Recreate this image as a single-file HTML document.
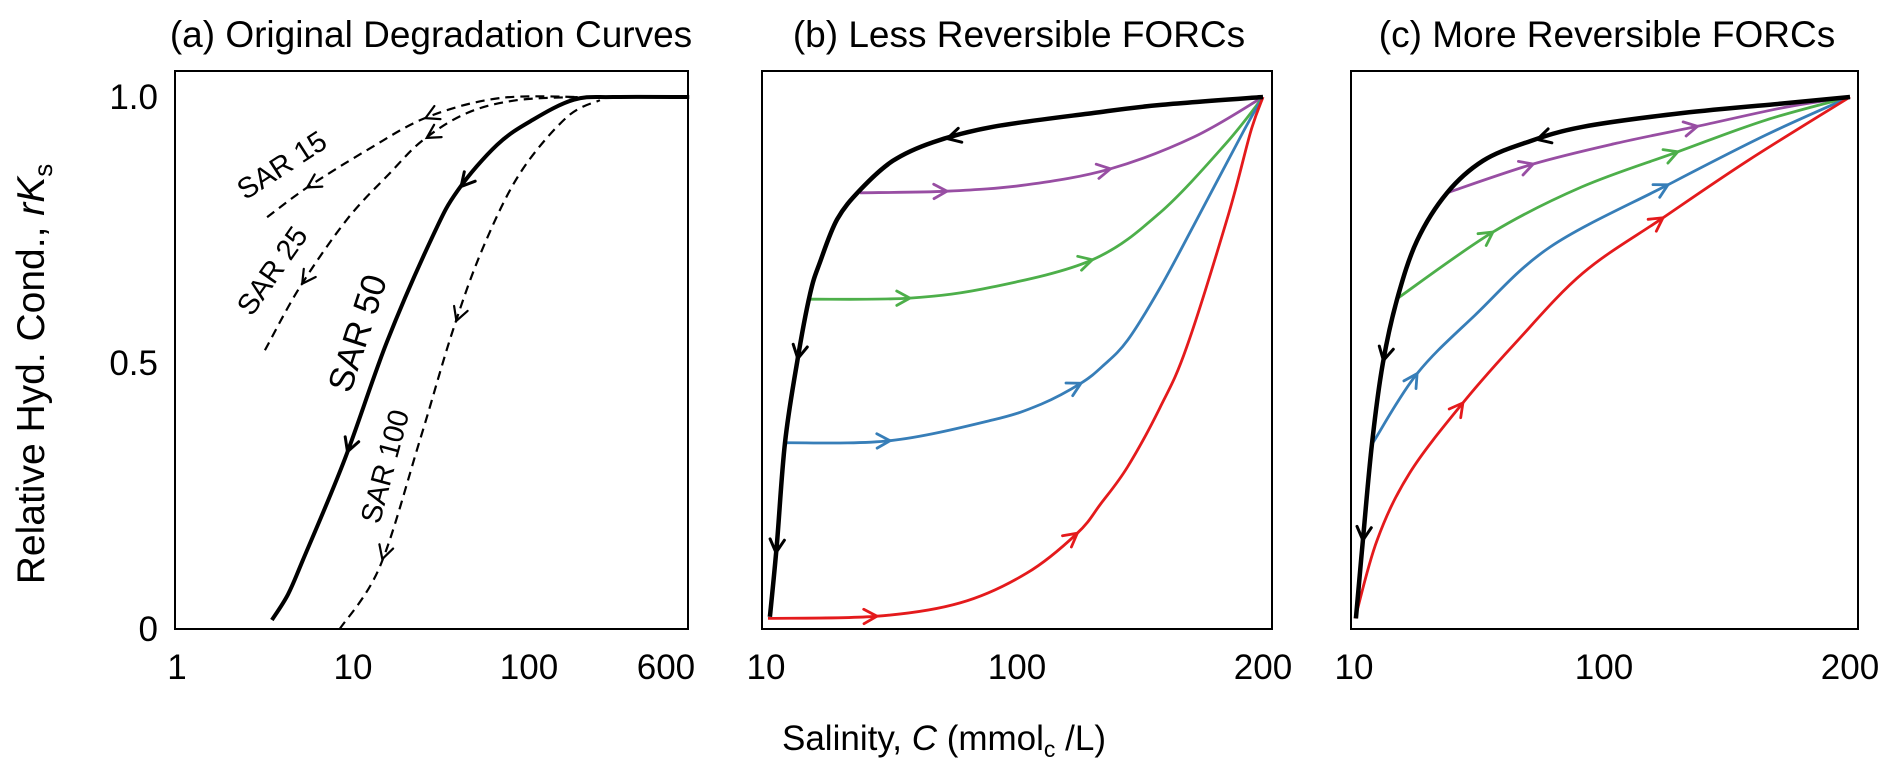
<!DOCTYPE html>
<html><head><meta charset="utf-8"><style>
html,body{margin:0;padding:0;background:#fff;}
svg text{font-family:"Liberation Sans",Arial,sans-serif;fill:#000;}
</style></head><body>
<svg id="chart" width="1893" height="776" viewBox="0 0 1893 776" xmlns="http://www.w3.org/2000/svg">
<g id="frames"></g>
<g id="marks"></g>
<g id="labels">
<text x="431" y="47" font-size="37" text-anchor="middle">(a) Original Degradation Curves</text>
<text x="1019" y="47" font-size="37" text-anchor="middle">(b) Less Reversible FORCs</text>
<text x="1607" y="47" font-size="37" text-anchor="middle">(c) More Reversible FORCs</text>
<text transform="translate(44,374) rotate(-90)" font-size="39" text-anchor="middle">Relative Hyd. Cond., <tspan font-style="italic">rK</tspan><tspan font-size="26" dy="8">s</tspan></text>
<text x="944" y="750" font-size="35" text-anchor="middle">Salinity, <tspan font-style="italic">C</tspan> (mmol<tspan font-size="23" dy="7">c</tspan><tspan dy="-7"> /L)</tspan></text>
<text transform="translate(283,167) rotate(-33)" font-size="29" text-anchor="middle" dominant-baseline="middle">SAR 15</text>
<text transform="translate(274,272) rotate(-55)" font-size="29" text-anchor="middle" dominant-baseline="middle">SAR 25</text>
<text transform="translate(360,334) rotate(-72)" font-size="35" text-anchor="middle" dominant-baseline="middle">SAR 50</text>
<text transform="translate(387,467) rotate(-75)" font-size="29" text-anchor="middle" dominant-baseline="middle">SAR 100</text>
</g>
</svg>
<script>
// ---- data ----
const yTicks = [0, 0.5, 1.0];
const yTickLabels = ["0", "0.5", "1.0"];
const xTicksA = [1, 10, 100, 600];
const xTicksBC = [10, 100, 200];

const sar15C = [3.25, 5.5, 12, 26.4, 68, 195];
const sar15V = [0.774, 0.83, 0.9, 0.962, 0.998, 1.0];
const sar25C = [3.16, 5, 9.2, 16.2, 25, 44.5, 85, 195];
const sar25V = [0.524, 0.643, 0.769, 0.857, 0.919, 0.97, 0.994, 1.0];
const sar50C = [3.46, 4.27, 5.2, 9.0, 15.6, 28.5, 39.5, 65.8, 105, 180, 300, 813];
const sar50V = [0.017, 0.065, 0.13, 0.32, 0.54, 0.74, 0.825, 0.91, 0.957, 0.995, 1.0, 1.0];
const sar100C = [8.4, 14.2, 24, 37, 55, 89, 164, 253];
const sar100V = [0.0, 0.117, 0.355, 0.562, 0.718, 0.857, 0.962, 0.994];

const bBlackC = [11.4, 13.9, 16.8, 21.1, 25.8, 29.4, 35.5, 43.7, 55.5, 69.9, 91.4, 131, 158, 200];
const bBlackV = [0.023, 0.16, 0.35, 0.5, 0.63, 0.69, 0.77, 0.825, 0.88, 0.915, 0.944, 0.97, 0.985, 1.0];
const bPurpleC = [43.7, 74.9, 104, 138, 172, 200];
const bPurpleV = [0.82, 0.823, 0.835, 0.865, 0.925, 1.0];
const bGreenC = [25.8, 61.6, 91.4, 130.6, 158, 185, 200];
const bGreenV = [0.62, 0.622, 0.643, 0.694, 0.782, 0.913, 1.0];
const bBlueC = [16.8, 54.5, 91.4, 110, 126, 135, 145, 158, 172, 192, 200];
const bBlueV = [0.35, 0.354, 0.393, 0.423, 0.462, 0.495, 0.543, 0.64, 0.76, 0.935, 1.0];
const bRedC = [10.7, 49.8, 79.6, 104, 124.5, 134, 145, 158, 169, 186, 195, 200];
const bRedV = [0.02, 0.024, 0.049, 0.105, 0.18, 0.235, 0.305, 0.415, 0.53, 0.78, 0.935, 1.0];

const cBlackC = [10.7, 13.2, 16.5, 20.4, 25.5, 32.7, 43.5, 56.4, 72.3, 92.4, 132, 173, 200];
const cBlackV = [0.02, 0.167, 0.35, 0.5, 0.62, 0.73, 0.82, 0.88, 0.915, 0.944, 0.97, 0.988, 1.0];
const cPurpleC = [43.5, 74.5, 105, 138, 173, 200];
const cPurpleV = [0.82, 0.874, 0.913, 0.945, 0.98, 1.0];
const cGreenC = [25.8, 60, 92, 130, 166, 200];
const cGreenV = [0.622, 0.746, 0.831, 0.897, 0.957, 1.0];
const cBlueC = [16.8, 32.7, 53.6, 80.6, 126, 166, 200];
const cBlueV = [0.35, 0.48, 0.59, 0.718, 0.835, 0.929, 1.0];
const cRedC = [10.4, 18.3, 30, 49.2, 68, 92.4, 124, 159, 200];
const cRedV = [0.02, 0.167, 0.293, 0.425, 0.537, 0.669, 0.773, 0.882, 1.0];

// ---- scales ----
const NS = "http://www.w3.org/2000/svg";
const Y0 = 629, YH = 532;
function yS(v) { return Y0 - YH * v; }
function xA(c) { return 177 + 176 * Math.log10(c); }
function piece(ticks, px) {
  return function (c) {
    if (c <= ticks[1]) return px[0] + (c - ticks[0]) / (ticks[1] - ticks[0]) * (px[1] - px[0]);
    return px[1] + (c - ticks[1]) / (ticks[2] - ticks[1]) * (px[2] - px[1]);
  };
}
const xB = piece(xTicksBC, [766, 1017, 1263]);
const xC = piece(xTicksBC, [1354, 1604, 1850]);

const marks = document.getElementById('marks');
const frames = document.getElementById('frames');
const labels = document.getElementById('labels');

function mk(tag, attrs, parent) {
  const e = document.createElementNS(NS, tag);
  for (const k in attrs) e.setAttribute(k, attrs[k]);
  parent.appendChild(e);
  return e;
}
function crPath(p) {
  let d = "M" + p[0][0].toFixed(1) + "," + p[0][1].toFixed(1);
  for (let i = 0; i < p.length - 1; i++) {
    const p0 = p[i - 1] || p[i], p1 = p[i], p2 = p[i + 1], p3 = p[i + 2] || p2;
    const c1x = p1[0] + (p2[0] - p0[0]) / 6, c1y = p1[1] + (p2[1] - p0[1]) / 6;
    const c2x = p2[0] - (p3[0] - p1[0]) / 6, c2y = p2[1] - (p3[1] - p1[1]) / 6;
    d += "C" + c1x.toFixed(1) + "," + c1y.toFixed(1) + " " + c2x.toFixed(1) + "," + c2y.toFixed(1) + " " + p2[0].toFixed(1) + "," + p2[1].toFixed(1);
  }
  return d;
}
function interp(C, V, xs, c) {
  for (let i = 0; i < C.length - 1; i++) {
    if (c >= C[i] && c <= C[i + 1]) {
      const t = (c - C[i]) / (C[i + 1] - C[i]);
      const x0 = xs(C[i]), x1 = xs(C[i + 1]);
      return [x0 + t * (x1 - x0), yS(V[i] + t * (V[i + 1] - V[i]))];
    }
  }
  return [xs(C[C.length - 1]), yS(V[V.length - 1])];
}
function series(name, C, V, xs, color, w, dash, arrowsC, dir) {
  const g = mk('g', {}, marks);
  
  
  const pts = C.map((c, i) => [xs(c), yS(V[i])]);
  const attrs = { d: crPath(pts), fill: 'none', stroke: color, 'stroke-width': w, 'stroke-linejoin': 'round' };
  if (dash) attrs['stroke-dasharray'] = dash;
  const path = mk('path', attrs, g);
  
  
  arrowsC.forEach(ac => {
    const p = interp(C, V, xs, ac);
    const q = interp(C, V, xs, ac * (dir > 0 ? 0.97 : 1.03));
    let dx = p[0] - q[0], dy = p[1] - q[1];
    const L = Math.hypot(dx, dy) || 1; dx /= L; dy /= L;
    const len = 15, ang = 0.5;
    const pts2 = [];
    [-ang, ang].forEach(a => {
      const ca = Math.cos(a), sa = Math.sin(a);
      const bx = -(dx * ca - dy * sa), by = -(dx * sa + dy * ca);
      pts2.push([p[0] + bx * len, p[1] + by * len]);
    });
    const ar = mk('path', {
      d: "M" + pts2[0][0].toFixed(1) + "," + pts2[0][1].toFixed(1) + "L" + p[0].toFixed(1) + "," + p[1].toFixed(1) + "L" + pts2[1][0].toFixed(1) + "," + pts2[1][1].toFixed(1),
      fill: 'none', stroke: color, 'stroke-width': Math.min(w, 3), 'stroke-linecap': 'round', 'stroke-linejoin': 'miter'
    }, g);
    
    
  });
}

// frames
[[175, 688, 'a'], [762, 1272, 'b'], [1351, 1858, 'c']].forEach(f => {
  const r = mk('rect', { x: f[0], y: 71, width: f[1] - f[0], height: Y0 - 71, fill: 'none', stroke: '#000', 'stroke-width': 2 }, frames);
  
  
});

// ticks
yTicks.forEach((v, i) => {
  const t = mk('text', { x: 158, y: yS(v) + 12, 'font-size': 35, 'text-anchor': 'end' }, labels);
  t.textContent = yTickLabels[i];
  
  
});
xTicksA.forEach(c => {
  const t = mk('text', { x: xA(c), y: 679, 'font-size': 35, 'text-anchor': 'middle' }, labels);
  t.textContent = String(c);
  
  
});
[xB, xC].forEach((xs, k) => {
  xTicksBC.forEach(c => {
    const t = mk('text', { x: xs(c), y: 679, 'font-size': 35, 'text-anchor': 'middle' }, labels);
    t.textContent = String(c);
    
    
  });
});

// panel a
series('sar15-curve', sar15C, sar15V, xA, '#000', 2.2, '9 6', [5.5, 26], -1);
series('sar25-curve', sar25C, sar25V, xA, '#000', 2.2, '9 6', [5.2, 26.6], -1);
series('sar100-curve', sar100C, sar100V, xA, '#000', 2.2, '9 6', [14.8, 39], -1);
series('sar50-curve', sar50C, sar50V, xA, '#000', 4, null, [9.4, 41.6], -1);

// panel b
series('b-purple-forc', bPurpleC, bPurpleV, xB, '#984ea3', 2.8, null, [74.9, 138], 1);
series('b-green-forc', bGreenC, bGreenV, xB, '#4daf4a', 2.8, null, [61.6, 130.6], 1);
series('b-blue-forc', bBlueC, bBlueV, xB, '#377eb8', 2.8, null, [54.5, 126], 1);
series('b-red-forc', bRedC, bRedV, xB, '#e41a1c', 2.8, null, [49.8, 124.5], 1);
series('b-degradation-curve', bBlackC, bBlackV, xB, '#000', 4.5, null, [75, 21.4, 13.6], -1);

// panel c
series('c-purple-forc', cPurpleC, cPurpleV, xC, '#984ea3', 2.8, null, [74.5, 138], 1);
series('c-green-forc', cGreenC, cGreenV, xC, '#4daf4a', 2.8, null, [60, 130], 1);
series('c-blue-forc', cBlueC, cBlueV, xC, '#377eb8', 2.8, null, [32.7, 126], 1);
series('c-red-forc', cRedC, cRedV, xC, '#e41a1c', 2.8, null, [49.2, 124], 1);
series('c-degradation-curve', cBlackC, cBlackV, xC, '#000', 4.5, null, [76, 20.6, 13.2], -1);
</script>
</body></html>
